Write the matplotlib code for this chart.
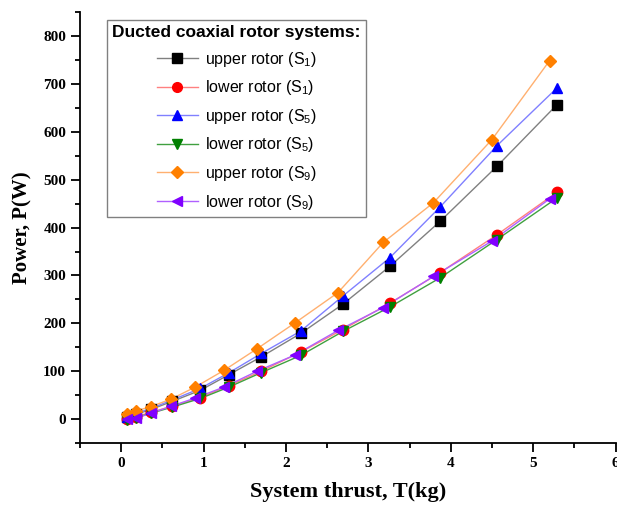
import matplotlib
matplotlib.use("Agg")
import matplotlib.pyplot as plt
from matplotlib.ticker import MultipleLocator
from matplotlib.lines import Line2D

plt.rcParams['mathtext.default'] = 'regular'

# Thrust (kg)
x_a = [0.07, 0.18, 0.36, 0.62, 0.96, 1.31, 1.70, 2.18, 2.69, 3.26, 3.87, 4.56, 5.29]
x_b = [0.07, 0.18, 0.36, 0.61, 0.90, 1.25, 1.65, 2.11, 2.63, 3.18, 3.79, 4.50, 5.20]

upper_s1 = [4, 10, 20, 37, 60, 93, 130, 179, 240, 319, 413, 528, 657]
lower_s1 = [0, 5, 14, 27, 45, 70, 100, 140, 187, 242, 306, 385, 474]
upper_s5 = [5, 12, 22, 40, 64, 97, 137, 184, 257, 337, 443, 571, 692]
lower_s5 = [-2, 3, 12, 25, 43, 67, 97, 133, 183, 234, 295, 375, 462]
upper_s9 = [10, 17, 26, 42, 67, 102, 147, 201, 264, 369, 452, 584, 749]
lower_s9 = [0, 2, 12, 27, 44, 67, 100, 134, 185, 233, 298, 372, 460]

labels = ['upper rotor (S$_1$)', 'lower rotor (S$_1$)', 'upper rotor (S$_5$)',
          'lower rotor (S$_5$)', 'upper rotor (S$_9$)', 'lower rotor (S$_9$)']

series = [
    (x_a, upper_s1, 's', '#000000', '#808080'),
    (x_a, lower_s1, 'o', '#ff0000', '#ff8080'),
    (x_a, upper_s5, '^', '#0000ff', '#8080ff'),
    (x_a, lower_s5, 'v', '#008000', '#40a040'),
    (x_b, upper_s9, 'D', '#ff8000', '#ffb070'),
    (x_b, lower_s9, '<', '#8000ff', '#b060ff'),
]

fig = plt.figure(figsize=(6.17, 5.08), dpi=100)
ax = fig.add_axes([0.1297, 0.128, 0.868, 0.848])

handles = []
for (xs, ys, m, mc, lc), lab in zip(series, labels):
    ms = 6.5 if m == 'D' else 7.5
    ax.plot(xs, ys, color=lc, lw=1.0, zorder=1)
    ax.plot(xs, ys, ls='none', marker=m, ms=ms, color=mc, mec=mc, zorder=2)
    handles.append(Line2D([], [], color=lc, lw=1.0, marker=m, ms=ms - 0.5, mfc=mc, mec=mc))

ax.set_xlim(-0.5, 6.0)
ax.set_ylim(-50, 850)
ax.xaxis.set_major_locator(MultipleLocator(1))
ax.xaxis.set_minor_locator(MultipleLocator(0.5))
ax.yaxis.set_major_locator(MultipleLocator(100))
ax.yaxis.set_minor_locator(MultipleLocator(50))

for s in ['top', 'right']:
    ax.spines[s].set_visible(False)
for s in ['left', 'bottom']:
    ax.spines[s].set_linewidth(1.3)

ax.tick_params(which='major', direction='out', length=6.5, width=1.3)
ax.tick_params(which='minor', direction='out', length=3.5, width=1.3)

serif = 'Liberation Serif'
for lab in ax.get_xticklabels() + ax.get_yticklabels():
    lab.set_fontfamily(serif)
    lab.set_fontweight('bold')
    lab.set_fontsize(11)

ax.set_xlabel('System thrust, T(kg)', fontfamily=serif, fontweight='bold', fontsize=16, labelpad=9)
ax.set_ylabel('Power, P(W)', fontfamily=serif, fontweight='bold', fontsize=15, labelpad=8)

leg = ax.legend(handles, labels, loc='upper left', bbox_to_anchor=(0.05, 0.983),
                borderaxespad=0, frameon=True, fancybox=False, edgecolor='#808080',
                prop={'family': 'Liberation Sans', 'size': 11.5},
                title='Ducted coaxial rotor systems:',
                title_fontproperties={'family': 'Liberation Sans', 'weight': 'bold', 'size': 12.5},
                handlelength=2.6, labelspacing=0.6, borderpad=0.35, handletextpad=0.4)
leg.get_frame().set_linewidth(1.0)
leg.get_frame().set_alpha(1)

fig.savefig('out.png', dpi=100)
